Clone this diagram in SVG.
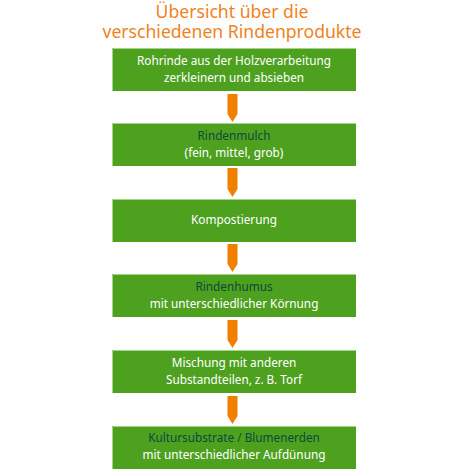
<svg xmlns="http://www.w3.org/2000/svg" width="465" height="470" viewBox="0 0 465 470">
<style>
.title{font-family:"Noto Sans","Open Sans",sans-serif;font-size:17.6px;fill:#f0821e;text-anchor:middle}
.box{fill:#4ea11f}
.edge{fill:none;stroke:#a6d486;stroke-width:1}
.t{font-family:"Noto Sans","Open Sans",sans-serif;font-size:11.75px;fill:#ffffff;text-anchor:middle}
.d{fill:#0e4a3a}
.arr{fill:#f08000}
</style>
<rect width="465" height="470" fill="#ffffff"/>
<g id="title">
<text class="title" x="232" y="17.8">Übersicht über die</text>
<text class="title" x="232" y="38">verschiedenen Rindenprodukte</text>
</g>
<g id="connectors">
<path class="arr" d="M227.5,94 H237.5 V114 L232.5,122 L227.5,114 Z"/>
<path class="arr" d="M227.5,168 H237.5 V189 L232.5,197 L227.5,189 Z"/>
<path class="arr" d="M227.5,244 H237.5 V264 L232.5,272 L227.5,264 Z"/>
<path class="arr" d="M227.5,320 H237.5 V340 L232.5,348 L227.5,340 Z"/>
<path class="arr" d="M227.5,396 H237.5 V416 L232.5,424 L227.5,416 Z"/>
</g>
<g id="n1">
<rect class="box" x="112" y="48" width="244" height="43"/>
<path class="edge" d="M112.5,91 V48.5 H356"/>
<text class="t" x="234" y="65">Rohrinde aus der Holzverarbeitung</text>
<text class="t" x="234" y="81.5">zerkleinern und absieben</text>
</g>
<g id="n2">
<rect class="box" x="112" y="123" width="244" height="43"/>
<path class="edge" d="M112.5,166 V123.5 H356"/>
<text class="t d" x="234" y="139.5">Rindenmulch</text>
<text class="t" x="234" y="156.5">(fein, mittel, grob)</text>
</g>
<g id="n3">
<rect class="box" x="112" y="199" width="244" height="43"/>
<path class="edge" d="M112.5,242 V199.5 H356"/>
<text class="t" x="234" y="224">Kompostierung</text>
</g>
<g id="n4">
<rect class="box" x="112" y="274" width="244" height="43"/>
<path class="edge" d="M112.5,317 V274.5 H356"/>
<text class="t d" x="234" y="290.5">Rindenhumus</text>
<text class="t" x="234" y="308">mit unterschiedlicher Körnung</text>
</g>
<g id="n5">
<rect class="box" x="112" y="350" width="244" height="43"/>
<path class="edge" d="M112.5,393 V350.5 H356"/>
<text class="t" x="234" y="367">Mischung mit anderen</text>
<text class="t" x="234" y="383.5">Substandteilen, z. B. Torf</text>
</g>
<g id="n6">
<rect class="box" x="112" y="426" width="244" height="43"/>
<path class="edge" d="M112.5,469 V426.5 H356"/>
<text class="t d" x="234" y="442">Kultursubstrate / Blumenerden</text>
<text class="t" x="234" y="458.5">mit unterschiedlicher Aufdünung</text>
</g>
</svg>
